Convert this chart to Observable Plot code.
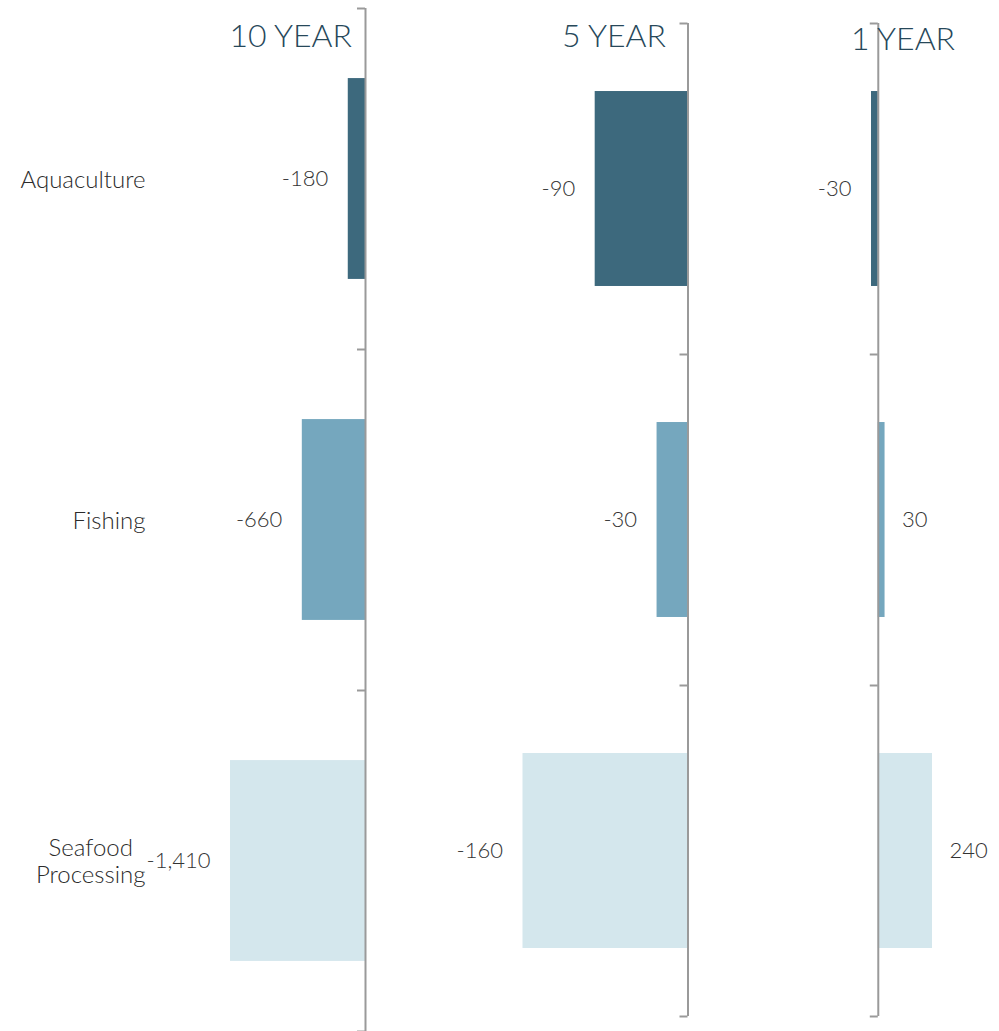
<!DOCTYPE html>
<html>
<head>
<meta charset="utf-8">
<script src="https://cdn.jsdelivr.net/npm/d3@7"></script>
<script src="https://cdn.jsdelivr.net/npm/@observablehq/plot@0.6"></script>
<style>
  html, body { margin: 0; padding: 0; background: #fff; }
  #chart { position: relative; width: 999px; height: 1031px; overflow: hidden; }
  #chart svg { position: absolute; left: 0; top: 0; }
  .period {
    position: absolute;
    font-family: Lato, "Open Sans", sans-serif;
    font-weight: 300;
    font-size: 32px;
    line-height: 32px;
    color: #27485a;
    white-space: nowrap;
  }
</style>
</head>
<body>
<div id="chart"></div>
<script>
// Employment change by sector over three horizons
const categories = ["Aquaculture", "Fishing", "Seafood\nProcessing"];
const periods = ["10 YEAR", "5 YEAR", "1 YEAR"];
const change10yr = [-180, -660, -1410];
const change5yr = [-90, -30, -160];
const change1yr = [-30, 30, 240];
const sectorColors = ["#3d697d", "#75a7be", "#d4e7ed"];

// Each horizon is its own small bar chart with an independent x scale.
const panels = [
  {title: periods[0], values: change10yr, domain: [-1410, 0],
   margin: {left: 230, right: 634, top: 8, bottom: 0}, showCategories: true,
   titleStyle: {right: "647px", top: "19px"}},
  {title: periods[1], values: change5yr, domain: [-160, 0],
   margin: {left: 522.5, right: 311.5, top: 23, bottom: 15}, showCategories: false,
   titleStyle: {right: "333px", top: "19px"}},
  {title: periods[2], values: change1yr, domain: [-30, 240],
   margin: {left: 871, right: 67, top: 23, bottom: 15}, showCategories: false,
   titleStyle: {left: "851px", top: "22px"}}
];

const fmt = v => v.toLocaleString("en-US");
const axisGray = "#9a9a9a";
const valueStyle = {fontSize: 22, fontWeight: 300, fill: "#333"};
const categoryStyle = {fontSize: 24, fontWeight: 300, fill: "#2b2b2b"};

const chart = document.getElementById("chart");

for (const p of panels) {
  const rows = categories.map((category, i) => ({category, value: p.values[i], row: i}));

  const marks = [
    Plot.rectX(rows, {
      x1: 0, x2: "value",
      y1: d => d.row + 0.2055, y2: d => d.row + 0.7945,
      fill: "category"
    }),
    Plot.ruleX([0], {stroke: axisGray, strokeWidth: 2}),
    Plot.ruleY([0, 1, 2, 3], {x1: 0, x2: 0, insetLeft: -8, stroke: axisGray, strokeWidth: 2}),
    Plot.text(rows, {
      filter: d => d.value < 0,
      x: "value", y: d => d.row + 0.5, text: d => fmt(d.value),
      textAnchor: "end", dx: -20, ...valueStyle
    }),
    Plot.text(rows, {
      filter: d => d.value > 0,
      x: "value", y: d => d.row + 0.5, text: d => fmt(d.value),
      textAnchor: "start", dx: 17, ...valueStyle
    })
  ];

  if (p.showCategories) {
    marks.push(Plot.text(rows, {
      y: d => d.row + 0.5, text: "category",
      frameAnchor: "left", dx: -85, textAnchor: "end", lineHeight: 1.125,
      ...categoryStyle
    }));
  }

  const svg = Plot.plot({
    width: 999,
    height: 1031,
    marginLeft: p.margin.left,
    marginRight: p.margin.right,
    marginTop: p.margin.top,
    marginBottom: p.margin.bottom,
    x: {domain: p.domain, axis: null},
    y: {domain: [0, 3], reverse: true, axis: null},
    color: {domain: categories, range: sectorColors},
    style: {background: "transparent", overflow: "visible", fontFamily: "Lato, 'Open Sans', sans-serif"},
    marks
  });
  chart.appendChild(svg);

  // Wrapped category names: centre the lines within their right-aligned block.
  svg.querySelectorAll("text").forEach(t => {
    const spans = t.querySelectorAll("tspan");
    if (spans.length < 2) return;
    const w = Math.max(...Array.from(spans, s => s.getComputedTextLength()));
    t.setAttribute("text-anchor", "middle");
    spans.forEach(s => s.setAttribute("x", -w / 2));
  });

  const title = document.createElement("div");
  title.className = "period";
  title.textContent = p.title;
  Object.assign(title.style, p.titleStyle);
  chart.appendChild(title);
}
</script>
</body>
</html>
